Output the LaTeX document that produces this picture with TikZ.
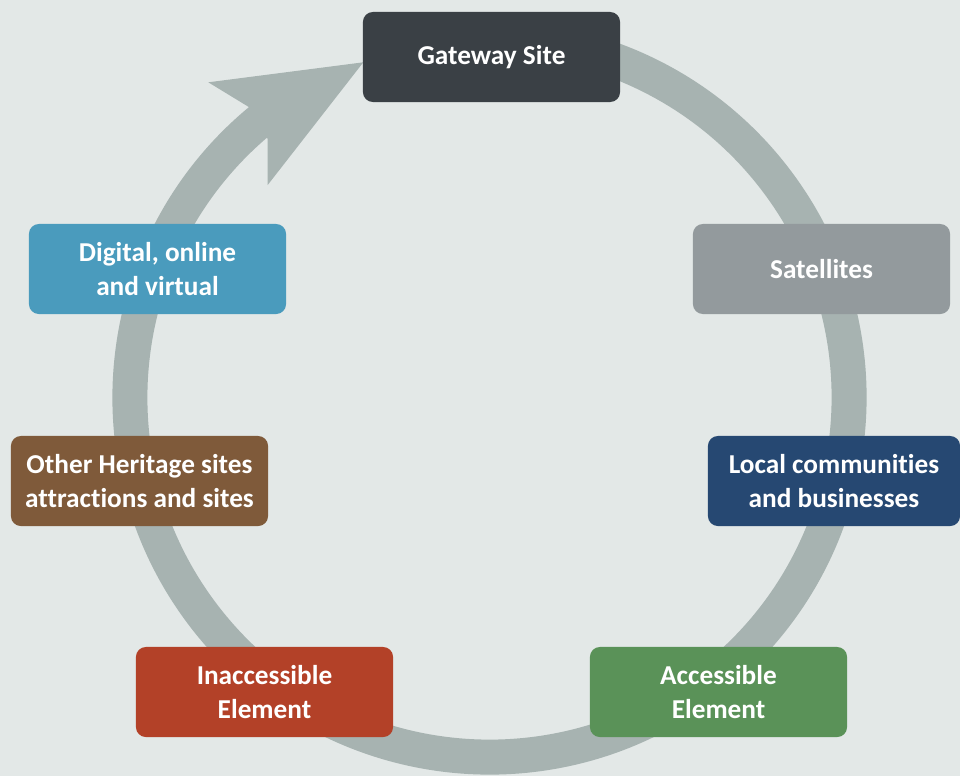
\documentclass[tikz,border=0pt]{standalone}
\usepackage{fontspec}
\setmainfont{Carlito}[Ligatures={NoCommon}]
\usepackage{tikz}
\usetikzlibrary{positioning}
\definecolor{mybg}{HTML}{E3E8E7}
\definecolor{myring}{HTML}{A7B3B1}
\definecolor{mydark}{HTML}{3A4045}
\definecolor{myblue}{HTML}{4A9BBD}
\definecolor{mybrown}{HTML}{7F5A3A}
\definecolor{mygray}{HTML}{939A9D}
\definecolor{mynavy}{HTML}{264872}
\definecolor{myred}{HTML}{B34128}
\definecolor{mygreen}{HTML}{5A9258}

\begin{document}
\begin{tikzpicture}[x=0.025cm, y=-0.025cm,
  stage/.style={rectangle, rounded corners=7pt, minimum width=6.425cm,
                minimum height=2.25cm, inner sep=0pt, align=center,
                text=white, font=\bfseries\fontsize{19.4}{24.5}\selectfont}]
  % Background
  \fill[mybg] (0,0) rectangle (960,776);
  \useasboundingbox (0,0) rectangle (960,776);
  % Ring
  \coordinate (hub) at (489.5,397.5);
  \draw[myring, line width=0.875cm] (hub) ++(129:8.9875cm)
    arc[start angle=129, end angle=460, radius=8.9875cm];
  % Arrow head
  \fill[myring] (208.3,82.3) -- (363.3,62.3) -- (267.7,185)
    -- (267.7,139) -- (249.3,107.3) -- cycle;
  % Stages
  \node[stage, fill=mydark]  (gate)     at (491.5,57)  {Gateway Site};
  \node[stage, fill=myblue]  (digital)  at (157.5,269) {Digital, online\\and virtual};
  \node[stage, fill=mybrown] (heritage) at (139.5,481) {Other Heritage sites\\attractions and sites};
  \node[stage, fill=mygray]  (sat)      at (821.5,269) {Satellites};
  \node[stage, fill=mynavy, minimum width=6.3cm] (local) at (834,481) {Local communities\\and businesses};
  \node[stage, fill=myred]   (inacc)    at (264.5,692) {Inaccessible\\Element};
  \node[stage, fill=mygreen] (acc)      at (718.5,692) {Accessible\\Element};
\end{tikzpicture}
\end{document}
